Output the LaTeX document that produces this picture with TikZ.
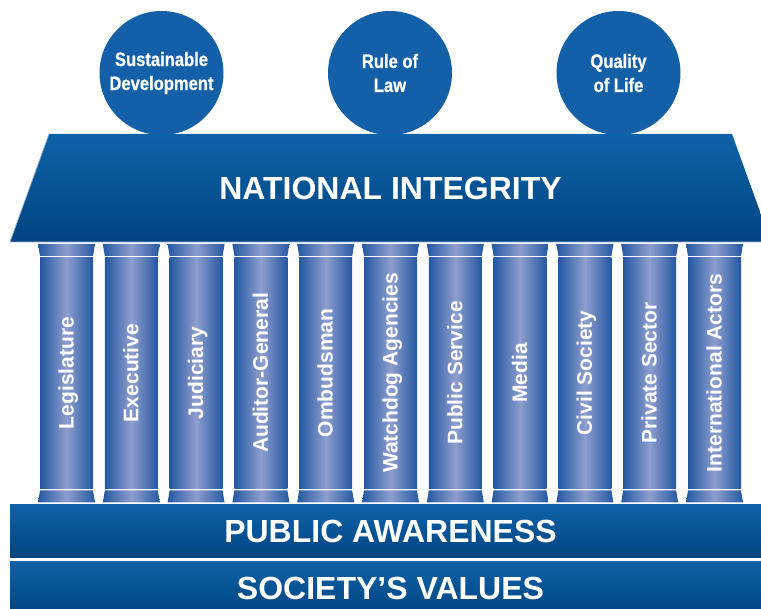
\documentclass[tikz,border=0pt]{standalone}
\usepackage{fontspec}
\setmainfont{Liberation Sans}
\newfontfamily\condfont[FakeStretch=0.85,FakeBold=0.6]{Liberation Sans}
\definecolor{circblue}{RGB}{20,96,168}
\definecolor{rooftop}{RGB}{14,98,168}
\definecolor{roofbot}{RGB}{0,68,128}
\definecolor{edgeblue}{RGB}{150,176,214}
\definecolor{pdark}{RGB}{36,88,162}
\definecolor{plight}{RGB}{142,158,206}
\begin{document}
\begin{tikzpicture}[x=1pt,y=-1pt,
  goal/.style={circle,fill=circblue,minimum size=124pt,inner sep=0pt,text=white,
    align=center,font=\condfont\bfseries\fontsize{19.5}{24}\selectfont},
  bigtext/.style={text=white,font=\bfseries\fontsize{32}{36}\selectfont,inner sep=0pt},
  bar/.style={top color=rooftop,bottom color=roofbot,minimum width=761pt,minimum height=53pt,
    inner sep=0pt,text=white,font=\bfseries\fontsize{32}{36}\selectfont},
  pshade/.style={left color=pdark,right color=pdark,middle color=plight},
  ptext/.style={rotate=90,text=white,font=\bfseries\fontsize{21}{24}\selectfont,
    inner sep=0pt,text height=15pt,text depth=0pt}]
\useasboundingbox (0,0) rectangle (761,609);
\clip (0,0) rectangle (761,609);
% goals
\node[goal] (sd) at (161.5,73) {Sustainable\\Development};
\node[goal] (rl) at (390,73) {Rule of\\Law};
\node[goal] (ql) at (618.5,73) {Quality\\of Life};
% roof
\coordinate (rtl) at (49,134);
\coordinate (rtr) at (732,134);
\coordinate (rbr) at (771,242);
\coordinate (rbl) at (10,242);
\shade[top color=rooftop,bottom color=roofbot] (rtl) -- (rtr) -- (rbr) -- (rbl) -- cycle;
\draw[edgeblue,line width=0.7pt] (rtl) -- (rbl) -- (rbr);
\node[bigtext] (ni) at (390.5,188) {NATIONAL INTEGRITY};
% pillars
\foreach \t [count=\i from 0] in {Legislature,Executive,Judiciary,Auditor-General,Ombudsman,Watchdog Agencies,Public Service,Media,Civil Society,Private Sector,International Actors}{
  \pgfmathsetmacro\c{66.5+64.8*\i}
  \shade[pshade] ({\c-28.5},244) -- ({\c+28.5},244) -- ({\c+26.5},256) -- ({\c-26.5},256) -- cycle;
  \shade[pshade] ({\c-26.5},257.5) rectangle ({\c+26.5},489);
  \shade[pshade] ({\c-26.5},490.5) -- ({\c+26.5},490.5) -- ({\c+28.5},502.5) -- ({\c-28.5},502.5) -- cycle;
  \node[ptext] (p\i) at ({\c-0.5},373) {\t};
}
% base bars
\node[bar] (pa) at (390.5,531.5) {PUBLIC AWARENESS};
\node[bar] (sv) at (390.5,588) {SOCIETY’S VALUES};
\end{tikzpicture}
\end{document}
